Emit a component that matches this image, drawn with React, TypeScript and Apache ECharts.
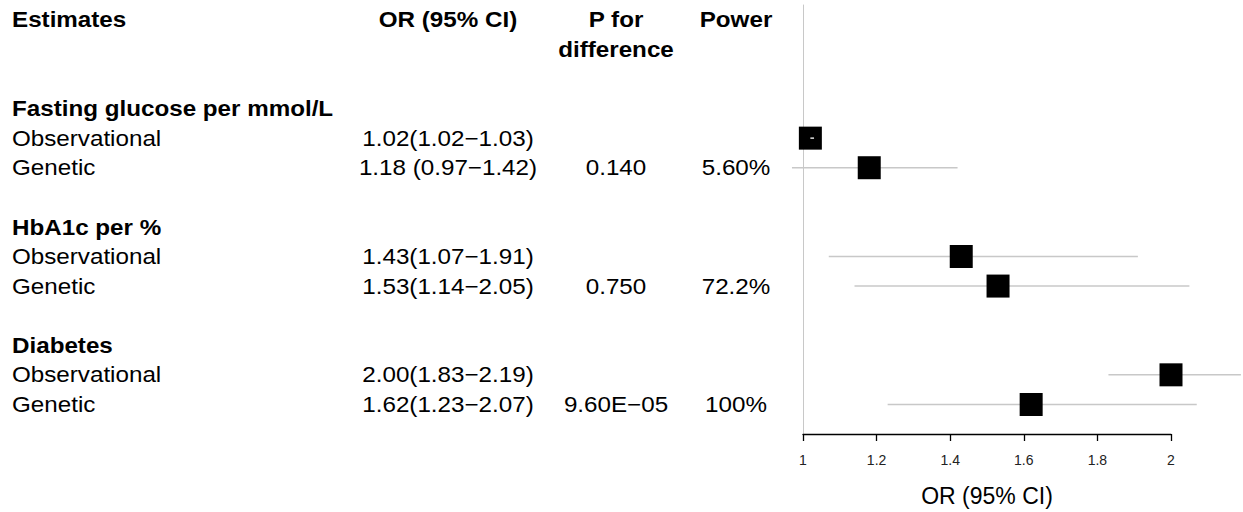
import React, { useEffect, useRef } from "react";
import * as echarts from "echarts";

// ---- data ----
const groupNames = ["Fasting glucose per mmol/L", "HbA1c per %", "Diabetes"];
const groupRows = [3, 7, 11];
const estimateNames = ["Observational", "Genetic", "Observational", "Genetic", "Observational", "Genetic"];
const estimateRows = [4, 5, 8, 9, 12, 13];
const orValues = [1.02, 1.18, 1.43, 1.53, 2.0, 1.62];
const ciLower = [1.02, 0.97, 1.07, 1.14, 1.83, 1.23];
const ciUpper = [1.03, 1.42, 1.91, 2.05, 2.19, 2.07];
const orLabels = [
  "1.02(1.02\u22121.03)",
  "1.18 (0.97\u22121.42)",
  "1.43(1.07\u22121.91)",
  "1.53(1.14\u22122.05)",
  "2.00(1.83\u22122.19)",
  "1.62(1.23\u22122.07)",
];
const pValues = ["0.140", "0.750", "9.60E\u221205"];
const powerValues = ["5.60%", "72.2%", "100%"];
const xTicks = [1, 1.2, 1.4, 1.6, 1.8, 2];

type Cell = { text: string; row: number; col: "label" | "or" | "p" | "power"; bold?: boolean };

const colX: Record<string, number> = { label: 12, or: 448, p: 616, power: 736 };
const colAlign: Record<string, string> = { label: "left", or: "center", p: "center", power: "center" };

const cells: Cell[] = [];
cells.push({ text: "Estimates", row: 0, col: "label", bold: true });
cells.push({ text: "OR (95% CI)", row: 0, col: "or", bold: true });
cells.push({ text: "P for", row: 0, col: "p", bold: true });
cells.push({ text: "difference", row: 1, col: "p", bold: true });
cells.push({ text: "Power", row: 0, col: "power", bold: true });
groupNames.forEach((g, i) => cells.push({ text: g, row: groupRows[i], col: "label", bold: true }));
estimateNames.forEach((n, i) => {
  cells.push({ text: n, row: estimateRows[i], col: "label" });
  cells.push({ text: orLabels[i], row: estimateRows[i], col: "or" });
});
pValues.forEach((p, i) => cells.push({ text: p, row: estimateRows[i * 2 + 1], col: "p" }));
powerValues.forEach((p, i) => cells.push({ text: p, row: estimateRows[i * 2 + 1], col: "power" }));

const FONT = "'Liberation Sans', Arial, sans-serif";

export default function App() {
  const ref = useRef<HTMLDivElement>(null);
  useEffect(() => {
    if (!ref.current) return;
    const chart = echarts.init(ref.current, undefined, { renderer: "svg" });
    const option: any = {
      animation: false,
      backgroundColor: "#ffffff",
      grid: { left: 803, right: 72, top: 5, bottom: 77, containLabel: false },
      xAxis: {
        type: "value",
        min: 1,
        max: 2,
        interval: 0.2,
        axisLine: { show: true, onZero: false, lineStyle: { color: "#000", width: 1.3 } },
        axisTick: { show: true, length: 7, lineStyle: { color: "#000", width: 1.3 } },
        axisLabel: {
          fontSize: 14,
          color: "#222",
          fontFamily: FONT,
          margin: 19,
          formatter: (v: number) => {
            const t = xTicks.find((k) => Math.abs(k - v) < 1e-6);
            return t === undefined ? "" : String(t);
          },
        },
        splitLine: { show: false },
        name: "OR (95% CI)",
        nameLocation: "middle",
        nameGap: 50,
        nameTextStyle: { fontSize: 23, color: "#000", fontFamily: FONT },
      },
      yAxis: {
        type: "value",
        min: -0.5,
        max: 14,
        inverse: true,
        axisLine: { show: true, onZero: false, lineStyle: { color: "#c8c8c8", width: 1 } },
        axisTick: { show: false },
        axisLabel: { show: false },
        splitLine: { show: false },
      },
      series: [
        {
          type: "custom",
          clip: false,
          silent: true,
          encode: { x: [0, 1, 2], y: 3 },
          data: orValues.map((v, i) => [v, ciLower[i], ciUpper[i], estimateRows[i]]),
          renderItem: (params: any, api: any) => {
            const row = api.value(3);
            const est = api.coord([api.value(0), row]);
            const lo = api.coord([api.value(1), row]);
            const hi = api.coord([api.value(2), row]);
            const s = 23;
            const children: any[] = [
              {
                type: "line",
                shape: { x1: lo[0], y1: lo[1], x2: hi[0], y2: hi[1] },
                style: { stroke: "#c8c8c8", lineWidth: 1.5 },
              },
              {
                type: "rect",
                shape: { x: est[0] - s / 2, y: est[1] - s / 2, width: s, height: s },
                style: { fill: "#000" },
              },
            ];
            if (hi[0] - lo[0] < s) {
              children.push({
                type: "line",
                shape: { x1: lo[0], y1: lo[1], x2: hi[0], y2: hi[1] },
                style: { stroke: "#e0e0e0", lineWidth: 1.5 },
              });
            }
            return { type: "group", children };
          },
        },
        {
          type: "custom",
          clip: false,
          silent: true,
          encode: { x: 0, y: 1 },
          data: cells.map((c) => [1, c.row]),
          renderItem: (params: any, api: any) => {
            const c = cells[params.dataIndex];
            const y = api.coord([1, c.row])[1];
            return {
              type: "text",
              x: colX[c.col],
              y,
              scaleX: 1.1,
              style: {
                text: c.text,
                x: 0,
                y: 0,
                fontSize: 22,
                fontFamily: FONT,
                fontWeight: c.bold ? "bold" : "normal",
                fill: "#000",
                align: colAlign[c.col],
                verticalAlign: "middle",
              },
            };
          },
        },
      ],
    };
    chart.setOption(option);
    return () => chart.dispose();
  }, []);
  return (
    <div
      ref={ref}
      style={{ position: "fixed", left: 0, top: 0, width: 1243, height: 512, background: "#fff" }}
    />
  );
}
